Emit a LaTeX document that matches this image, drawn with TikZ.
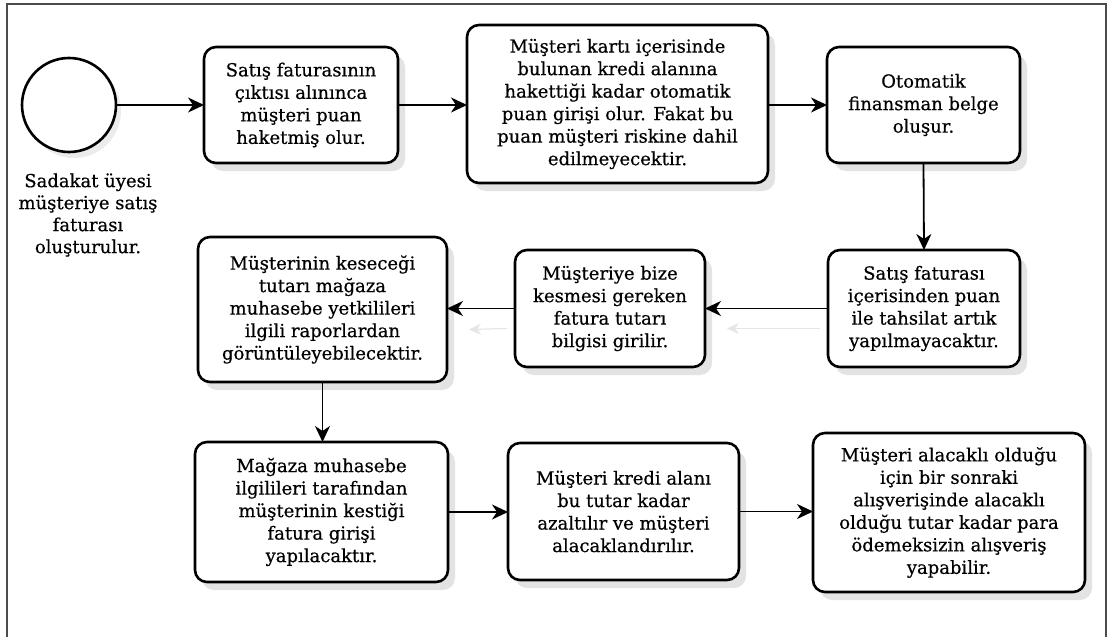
\documentclass[tikz,border=0pt]{standalone}
\usepackage{fontspec}
\setmainfont{DejaVu Serif}[FakeBold=0.5]
\usetikzlibrary{arrows.meta,shadows,calc}

\begin{document}
\begin{tikzpicture}[x=1pt,y=-1pt,
  every node/.style={inner sep=0pt, outer sep=0pt},
  stepbox/.style={draw=black, line width=2.6pt, rounded corners=12pt, fill=white,
    align=center, font=\fontsize{18}{22.5}\selectfont,
    drop shadow={shadow xshift=7pt, shadow yshift=-8pt, opacity=0.18, fill=black!60}},
  startev/.style={draw=black, line width=2.6pt, circle, fill=white,
    drop shadow={shadow xshift=5pt, shadow yshift=-6pt, opacity=0.15}},
  flow/.style={line width=1.8pt, -{Stealth[length=16pt,width=15pt,inset=5pt]}},
  ghost/.style={line width=1.2pt, draw=black!10, -{Stealth[length=12pt,width=11pt,inset=4pt]}},
  frameline/.style={draw=black!70, line width=2pt}
]
\useasboundingbox (0,0) rectangle (1109,637);

% outer frame, open at the bottom
\draw[frameline] (7,637) -- (7,4) -- (1106,4) -- (1106,637);

% start event and its caption
\node[startev, minimum size=94pt] (start) at (69,105) {};
\node[align=center, font=\fontsize{18}{22}\selectfont] (startlbl) at (88,215)
  {Sadakat üyesi\\müşteriye satış\\faturası\\oluşturulur.};

% process steps
\node[stepbox, minimum width=194pt, minimum height=116pt] (b1) at (301,105)
  {Satış faturasının\\çıktısı alınınca\\müşteri puan\\haketmiş olur.};
\node[stepbox, minimum width=301pt, minimum height=158pt] (b2) at (617.5,104)
  {Müşteri kartı içerisinde\\bulunan kredi alanına\\hakettiği kadar otomatik\\puan girişi olur. Fakat bu\\puan müşteri riskine dahil\\edilmeyecektir.};
\node[stepbox, minimum width=193pt, minimum height=116pt] (b3) at (923.5,105)
  {Otomatik\\finansman belge\\oluşur.};
\node[stepbox, minimum width=192pt, minimum height=117pt] (b4) at (924,308.5)
  {Satış faturası\\içerisinden puan\\ile tahsilat artık\\yapılmayacaktır.};
\node[stepbox, minimum width=190pt, minimum height=117pt] (b5) at (610,308.5)
  {Müşteriye bize\\kesmesi gereken\\fatura tutarı\\bilgisi girilir.};
\node[stepbox, minimum width=249pt, minimum height=145pt] (b6) at (322.5,309.5)
  {Müşterinin keseceği\\tutarı mağaza\\muhasebe yetkilileri\\ilgili raporlardan\\görüntüleyebilecektir.};
\node[stepbox, minimum width=253pt, minimum height=140pt] (b7) at (321.5,512)
  {Mağaza muhasebe\\ilgilileri tarafından\\müşterinin kestiği\\fatura girişi\\yapılacaktır.};
\node[stepbox, minimum width=231pt, minimum height=137pt] (b8) at (623.5,511.5)
  {Müşteri kredi alanı\\bu tutar kadar\\azaltılır ve müşteri\\alacaklandırılır.};
\node[stepbox, minimum width=272pt, minimum height=159pt] (b9) at (949,512.5)
  {Müşteri alacaklı olduğu\\için bir sonraki\\alışverişinde alacaklı\\olduğu tutar kadar para\\ödemeksizin alışveriş\\yapabilir.};

% faint echoes under the middle row connectors
\draw[ghost] ($(b4.west)+(-8,20)$) -- ($(b5.east)+(22,20)$);
\draw[ghost] ($(b5.west)+(-8,20)$) -- ($(b6.east)+(22,20)$);

% sequence flow
\draw[flow] (start.east) -- (b1.west);
\draw[flow] (b1.east) -- (b2.west |- b1.east);
\draw[flow] (b2.east |- b3.west) -- (b3.west);
\draw[flow] (b3.south) -- (b4.north);
\draw[flow] (b4.west) -- (b5.east);
\draw[flow] (b5.west) -- (b6.east |- b5.west);
\draw[flow] (b6.south) -- (b7.north -| b6.south);
\draw[flow] (b7.east) -- (b8.west |- b7.east);
\draw[flow] (b8.east) -- (b9.west |- b8.east);
\end{tikzpicture}
\end{document}
